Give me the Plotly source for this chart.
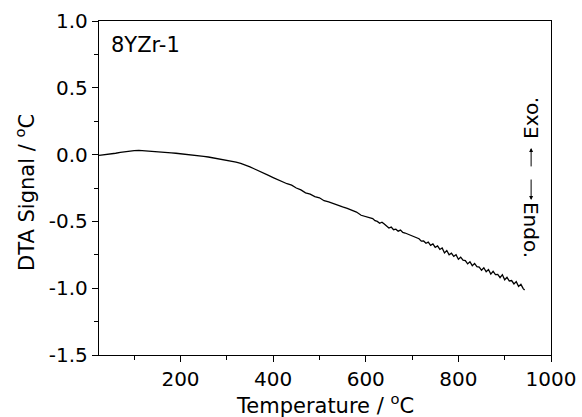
import plotly.graph_objects as go

temperature = [24, 30, 40, 50, 60, 70, 80, 90, 100, 110, 120, 130, 140, 150, 160, 170, 180, 190,
               200, 210, 220, 230, 240, 250, 260, 270, 280, 290, 300, 310, 320, 330, 340, 350,
               360, 370, 380, 390, 400, 410, 420, 430, 440, 450, 460, 470, 480, 490, 500, 510,
               520, 530, 540, 550, 560, 570, 580, 590, 600,
               605, 610, 615, 620, 625, 630, 635, 640, 645, 650, 655, 660, 665, 670, 675, 680,
               685, 690, 695, 700, 705, 710, 715, 720, 725, 730, 735, 740, 745, 750, 755, 760,
               765, 770, 775, 780, 785, 790, 795, 800, 805, 810, 815, 820, 825, 830, 835, 840,
               845, 850, 855, 860, 865, 870, 875, 880, 885, 890, 895, 900, 905, 910, 915, 920,
               925, 930, 935, 940, 943]

dta_signal = [-0.006, -0.004, -0.001, 0.003, 0.010, 0.016, 0.022, 0.028, 0.030, 0.031, 0.029,
              0.028, 0.026, 0.024, 0.020, 0.018, 0.013, 0.010, 0.007, 0.003, 0.000, -0.004,
              -0.008, -0.013, -0.018, -0.024, -0.030, -0.036, -0.042, -0.049, -0.057, -0.066,
              -0.078, -0.092, -0.108, -0.122, -0.141, -0.156, -0.172, -0.188, -0.199, -0.218,
              -0.229, -0.250, -0.264, -0.286, -0.296, -0.314, -0.323, -0.345, -0.354, -0.368,
              -0.379, -0.392, -0.402, -0.418, -0.430, -0.454, -0.465,
              -0.468, -0.478, -0.479, -0.495, -0.500, -0.514, -0.506, -0.520, -0.533, -0.550,
              -0.543, -0.562, -0.558, -0.573, -0.565, -0.582, -0.587, -0.595, -0.601, -0.610,
              -0.613, -0.627, -0.630, -0.648, -0.647, -0.664, -0.655, -0.679, -0.668, -0.694,
              -0.684, -0.710, -0.699, -0.736, -0.718, -0.750, -0.738, -0.762, -0.750, -0.783,
              -0.768, -0.790, -0.794, -0.818, -0.802, -0.831, -0.815, -0.838, -0.842, -0.866,
              -0.847, -0.877, -0.860, -0.894, -0.873, -0.898, -0.897, -0.921, -0.899, -0.937,
              -0.919, -0.946, -0.943, -0.968, -0.951, -0.987, -0.971, -1.003, -1.014]

x_ticks = [200, 400, 600, 800, 1000]
x_ticktext = ["200", "400", "600", "800", "1000"]
x_minor = [100, 300, 500, 700, 900]
y_ticks = [-1.5, -1.0, -0.5, 0.0, 0.5, 1.0]
y_ticktext = ["-1.5", "-1.0", "-0.5", "0.0", "0.5", "1.0"]
y_minor = [-1.25, -0.75, -0.25, 0.25, 0.75]

sample_label = "8YZr-1"
x_title = "Temperature / <sup>o</sup>C"
y_title = "DTA Signal / <sup>o</sup>C"

FONT = "DejaVu Sans"

fig = go.Figure()
fig.add_trace(go.Scatter(x=temperature, y=dta_signal, mode="lines",
                         line=dict(color="black", width=1.3), showlegend=False))

axis_common = dict(showline=True, linecolor="black", linewidth=1.3, mirror=True,
                   ticks="outside", ticklen=6, tickwidth=1.2, tickcolor="black",
                   showgrid=False, zeroline=False, automargin=False,
                   tickfont=dict(family=FONT, size=20, color="black"))

fig.update_xaxes(range=[24, 1000], tickvals=x_ticks, ticktext=x_ticktext,
                 minor=dict(tickvals=x_minor, ticks="outside", ticklen=4,
                            tickwidth=1.2, tickcolor="black"),
                 **axis_common)
fig.update_yaxes(range=[-1.5, 1.0], tickvals=y_ticks, ticktext=y_ticktext,
                 minor=dict(tickvals=y_minor, ticks="outside",
                            ticklen=4, tickwidth=1.2, tickcolor="black"),
                 **axis_common)

# axis titles
fig.add_annotation(text=x_title, xref="paper", yref="paper", x=0.5, y=-0.147,
                   xanchor="center", yanchor="middle", showarrow=False,
                   font=dict(family=FONT, size=21, color="black"))
fig.add_annotation(text=y_title, xref="paper", yref="paper", x=-0.164, y=0.488,
                   xanchor="center", yanchor="middle", showarrow=False, textangle=-90,
                   font=dict(family=FONT, size=21, color="black"))

fig.add_annotation(text=sample_label, xref="paper", yref="paper", x=0.022, y=0.927,
                   xanchor="left", yanchor="middle", showarrow=False,
                   font=dict(family=FONT, size=21, color="black"))
fig.add_annotation(text="Exo.", xref="paper", yref="paper", x=0.956, y=0.71,
                   xanchor="center", yanchor="middle", showarrow=False, textangle=-90,
                   font=dict(family=FONT, size=20, color="black"))
fig.add_annotation(text="Endo.", xref="paper", yref="paper", x=0.956, y=0.374,
                   xanchor="center", yanchor="middle", showarrow=False, textangle=90,
                   font=dict(family=FONT, size=20, color="black"))
fig.add_annotation(text="", xref="paper", yref="paper", x=0.956, y=0.62, ax=0, ay=20,
                   showarrow=True, arrowhead=2, arrowsize=0.8, arrowwidth=1, arrowcolor="black")
fig.add_annotation(text="", xref="paper", yref="paper", x=0.956, y=0.464, ax=0, ay=-22,
                   showarrow=True, arrowhead=2, arrowsize=0.8, arrowwidth=1, arrowcolor="black")

fig.update_layout(width=582, height=417, margin=dict(l=99, r=31, t=21, b=62, autoexpand=False),
                  paper_bgcolor="white", plot_bgcolor="white",
                  font=dict(family=FONT, color="black"))

fig.write_html("out.html", config={"displayModeBar": False},
               post_script="document.body.style.margin='0';document.body.style.padding='0';")
